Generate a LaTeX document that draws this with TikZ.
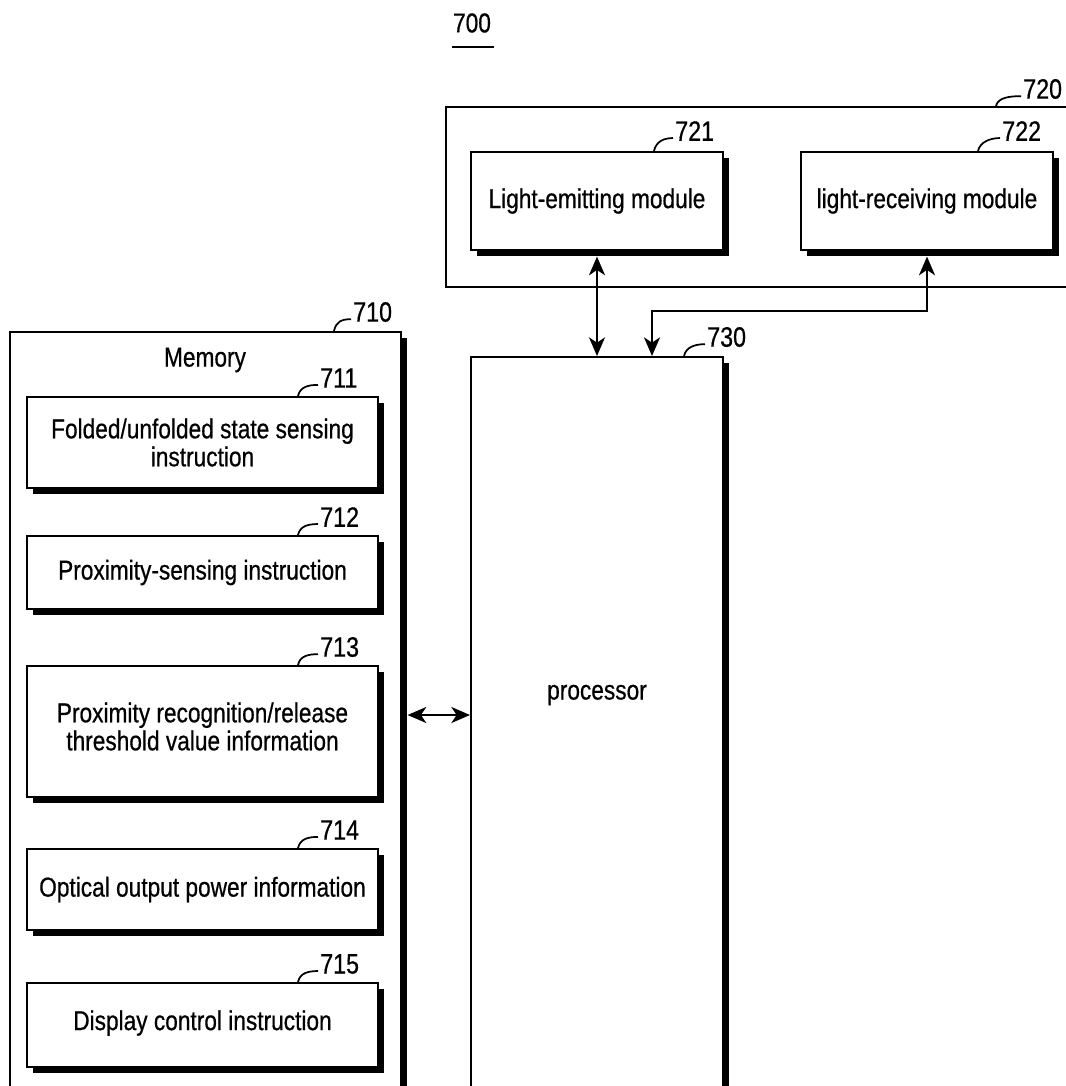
\documentclass[tikz,border=0pt]{standalone}
\usepackage{fontspec}
\setmainfont[FakeStretch=0.83,FakeBold=0.6]{Liberation Sans}
\usetikzlibrary{fit,shadows,arrows.meta,calc}

\begin{document}
\begin{tikzpicture}[x=0.75pt,y=-0.75pt,
  frame/.style={draw, line width=1.5pt, inner sep=0pt},
  box/.style={draw, line width=1.5pt, fill=white, inner sep=0pt,
    drop shadow={shadow xshift=4.2pt, shadow yshift=-4.2pt, fill=black, opacity=1}},
  txt/.style={font=\fontsize{20.5}{21}\selectfont, align=center, inner sep=0pt},
  tag/.style={font=\fontsize{21}{21}\selectfont, anchor=west, inner sep=0pt},
  lead/.style={line width=1.3pt},
  link/.style={line width=1.7pt,
    {Stealth[length=14pt,width=12pt,inset=4pt]}-{Stealth[length=14pt,width=12pt,inset=4pt]}}
]
\useasboundingbox (0,0) rectangle (1066,1086);
\clip (0,0) rectangle (1066,1086);

% figure number
\node[txt] (fig) at (472,23) {700};
\draw[line width=1.5pt] ($(fig.south west)+(-1,14)$) -- ($(fig.south east)+(3,14)$);

% sensor module 720 with its two sub-modules
\node[frame, fit={(446,107) (1090,287)}] (sens) {};
\node[box, fit={(471,152) (723,250)}] (emit) {};
\node[txt] (emitt) at (emit.center) {Light-emitting module};
\node[box, fit={(801,152) (1053,250)}] (recv) {};
\node[txt] (recvt) at (recv.center) {light-receiving module};

% memory 710
\node[box, fit={(10,332) (401,1110)}] (mem) {};
\node[txt] (memlbl) at (205,360) {Memory};
\node[box, fit={(27,397) (378,488)}] (m711) {};
\node[txt] (m711t) at (m711.center) {Folded/unfolded state sensing\\instruction};
\node[box, fit={(27,536) (378,609)}] (m712) {};
\node[txt] (m712t) at (m712.center) {Proximity-sensing instruction};
\node[box, fit={(27,666) (378,797)}] (m713) {};
\node[txt] (m713t) at ($(m713.center)+(0,-5)$) {Proximity recognition/release\\threshold value information};
\node[box, fit={(27,849) (378,930)}] (m714) {};
\node[txt] (m714t) at (m714.center) {Optical output power information};
\node[box, fit={(27,983) (378,1067)}] (m715) {};
\node[txt] (m715t) at ($(m715.center)+(0,-2)$) {Display control instruction};

% processor 730
\node[box, fit={(471,357) (723,1110)}] (proc) {};
\node[txt] (proclbl) at (597,695) {processor};

% reference numerals and their leaders
\node[tag] (t720) at (1023,89) {720};
\draw[lead] ($(sens.north west)+(551,0)$) .. controls +(2,-9) and +(-10,0) .. ($(t720.south west)+(-2,-3)$);
\node[tag] (t721) at (675,131) {721};
\draw[lead] ($(emit.north east)+(-70,0)$) .. controls +(2,-9) and +(-10,0) .. ($(t721.south west)+(-2,-3)$);
\node[tag] (t722) at (1002,131) {722};
\draw[lead] ($(recv.north east)+(-76,0)$) .. controls +(2,-9) and +(-10,0) .. ($(t722.south west)+(-2,-3)$);
\node[tag] (t710) at (353,312) {710};
\draw[lead] ($(mem.north east)+(-68,0)$) .. controls +(2,-9) and +(-10,0) .. ($(t710.south west)+(-2,-3)$);
\node[tag] (t730) at (707,337) {730};
\draw[lead] ($(proc.north east)+(-40,0)$) .. controls +(2,-9) and +(-10,0) .. ($(t730.south west)+(-2,-3)$);
\node[tag] (t711) at (320,378) {711};
\draw[lead] ($(m711.north east)+(-81,0)$) .. controls +(2,-9) and +(-10,0) .. ($(t711.south west)+(-2,-3)$);
\node[tag] (t712) at (320,517) {712};
\draw[lead] ($(m712.north east)+(-81,0)$) .. controls +(2,-9) and +(-10,0) .. ($(t712.south west)+(-2,-3)$);
\node[tag] (t713) at (320,647) {713};
\draw[lead] ($(m713.north east)+(-81,0)$) .. controls +(2,-9) and +(-10,0) .. ($(t713.south west)+(-2,-3)$);
\node[tag] (t714) at (320,830) {714};
\draw[lead] ($(m714.north east)+(-81,0)$) .. controls +(2,-9) and +(-10,0) .. ($(t714.south west)+(-2,-3)$);
\node[tag] (t715) at (320,964) {715};
\draw[lead] ($(m715.north east)+(-81,0)$) .. controls +(2,-9) and +(-10,0) .. ($(t715.south west)+(-2,-3)$);

% connectors
\coordinate (emitB) at ([yshift=-4.2pt]emit.south);
\coordinate (recvB) at ([yshift=-4.2pt]recv.south);
\coordinate (memR) at ([xshift=4.2pt]mem.east);
\coordinate (bend) at (652,311);
\coordinate (mp) at (0,715);
\draw[link] (emitB) -- (emitB |- proc.north);
\draw[link] (recvB) |- (bend) -- (bend |- proc.north);
\draw[link] (memR |- mp) -- (proc.west |- mp);
\end{tikzpicture}
\end{document}
